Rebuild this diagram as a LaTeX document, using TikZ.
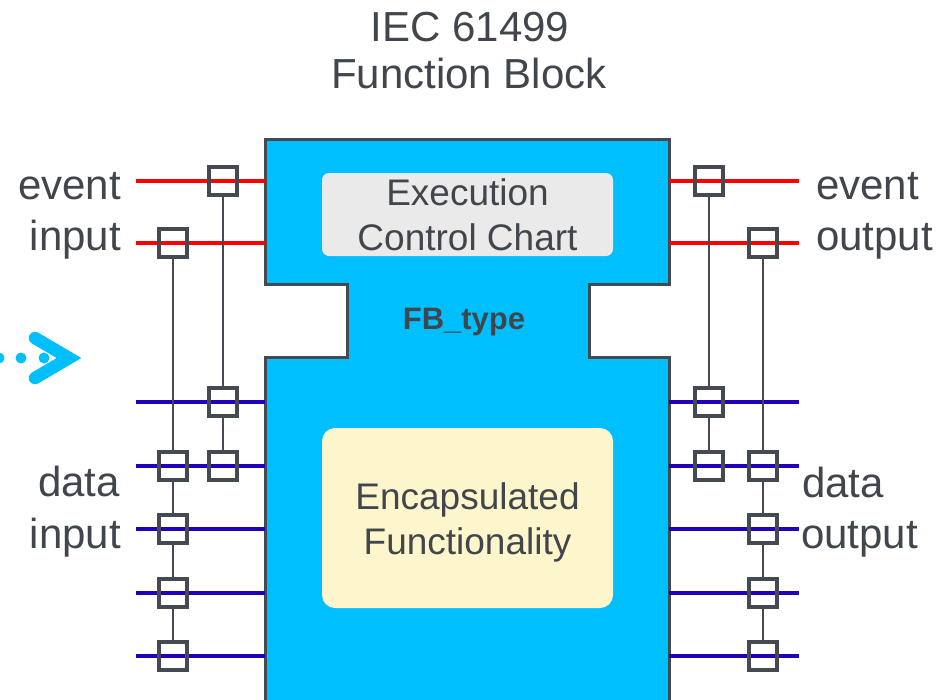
\documentclass[tikz,border=0pt]{standalone}
\usepackage{fontspec}
\setmainfont{Liberation Sans}
\definecolor{fbblue}{HTML}{00BFFF}
\definecolor{fbgray}{HTML}{454A52}
\definecolor{txtgray}{HTML}{41464D}
\definecolor{evred}{HTML}{FF0000}
\definecolor{dtblue}{HTML}{2200BB}
\definecolor{eccfill}{HTML}{EBEAEA}
\definecolor{encfill}{HTML}{FDF6CC}
\tikzset{
  lbl/.style={text=txtgray, font=\fontsize{42}{50}\selectfont, inner sep=0pt},
  inlbl/.style={text=txtgray, font=\fontsize{37}{44}\selectfont, inner sep=0pt},
  conn/.style={draw=fbgray, line width=3.5pt, minimum size=28pt, inner sep=0pt, fill=none},
  evline/.style={draw=evred, line width=4pt},
  dtline/.style={draw=dtblue, line width=4pt},
  vline/.style={draw=fbgray, line width=2pt},
}
\begin{document}
\begin{tikzpicture}[x=1pt,y=-1pt]
\useasboundingbox (0,0) rectangle (947,699);
\clip (0,0) rectangle (947,699);
% block
\path[fill=fbblue, draw=fbgray, line width=3pt, line join=miter]
  (265,139) -- (669,139) -- (669,284) -- (589,284) -- (589,357) -- (669,357)
  -- (669,701) -- (265,701) -- (265,357) -- (347,357) -- (347,284) -- (265,284) -- cycle;
\node[fill=eccfill, rounded corners=7pt, minimum width=291pt, minimum height=83pt, inner sep=0pt] (ecc) at (467.5,214.5) {};
\node[inlbl, anchor=base] (ecc1) at (467.5,205) {Execution};
\node[inlbl, anchor=base] (ecc2) at (467.5,250) {Control Chart};
\node[fill=encfill, rounded corners=13pt, minimum width=291pt, minimum height=180pt, inner sep=0pt] (enc) at (467.5,518) {};
\node[inlbl, anchor=base] (enc1) at (467.5,509) {Encapsulated};
\node[inlbl, anchor=base] (enc2) at (467.5,554) {Functionality};
\node[text=txtgray, font=\fontsize{31}{36}\selectfont\bfseries, inner sep=0pt, anchor=base] (fbt) at (464,329) {FB\_type};
% title
\node[lbl, anchor=base] (t1) at (470,41) {IEC 61499};
\node[lbl, anchor=base] (t2) at (469,88) {Function Block};
% side labels
\node[lbl, anchor=base east] (ei1) at (121,199) {event};
\node[lbl, anchor=base east] (ei2) at (121,250) {input};
\node[lbl, anchor=base east] (di1) at (120,496) {data};
\node[lbl, anchor=base east] (di2) at (121,548) {input};
\node[lbl, anchor=base west] (eo1) at (816,199) {event};
\node[lbl, anchor=base west] (eo2) at (816,250) {output};
\node[lbl, anchor=base west] (do1) at (802,497) {data};
\node[lbl, anchor=base west] (do2) at (801,548) {output};
% line end coordinates
\foreach \n/\y in {e1/181,e2/243,d1/402,d2/466,d3/529,d4/593,d5/656}{
  \coordinate (L\n) at (136,\y);
  \coordinate (BL\n) at (265,\y);
  \coordinate (BR\n) at (669,\y);
  \coordinate (R\n) at (799,\y);
}
\foreach \n in {e1,e2}{
  \draw[evline] (L\n) -- (BL\n);
  \draw[evline] (BR\n) -- (R\n);
}
\foreach \n in {d1,d2,d3,d4,d5}{
  \draw[dtline] (L\n) -- (BL\n);
  \draw[dtline] (BR\n) -- (R\n);
}
% connector boxes left
\node[conn] (la1) at (223,181) {};
\node[conn] (la2) at (223,402) {};
\node[conn] (la3) at (223,466) {};
\node[conn] (lb1) at (173,243) {};
\node[conn] (lb2) at (173,466) {};
\node[conn] (lb3) at (173,529) {};
\node[conn] (lb4) at (173,593) {};
\node[conn] (lb5) at (173,656) {};
% connector boxes right
\node[conn] (ra1) at (709,181) {};
\node[conn] (ra2) at (709,402) {};
\node[conn] (ra3) at (709,466) {};
\node[conn] (rb1) at (763,243) {};
\node[conn] (rb2) at (763,466) {};
\node[conn] (rb3) at (763,529) {};
\node[conn] (rb4) at (763,593) {};
\node[conn] (rb5) at (763,656) {};
% vertical links
\draw[vline] (la1) -- (la2);
\draw[vline] (la2) -- (la3);
\draw[vline] (lb1) -- (lb2);
\draw[vline] (lb2) -- (lb3);
\draw[vline] (lb3) -- (lb4);
\draw[vline] (lb4) -- (lb5);
\draw[vline] (ra1) -- (ra2);
\draw[vline] (ra2) -- (ra3);
\draw[vline] (rb1) -- (rb2);
\draw[vline] (rb2) -- (rb3);
\draw[vline] (rb3) -- (rb4);
\draw[vline] (rb4) -- (rb5);
% left arrow
\fill[fbblue] (-1,358) circle (5.5);
\fill[fbblue] (21,358) circle (5.5);
\fill[fbblue] (44,358) circle (5.5);
\coordinate (aa) at (35,338);
\coordinate (ab) at (69,358);
\coordinate (ac) at (35,378);
\draw[fbblue, line width=12.5pt, line cap=round, line join=miter] (aa) -- (ab) -- (ac);
\end{tikzpicture}
\end{document}
